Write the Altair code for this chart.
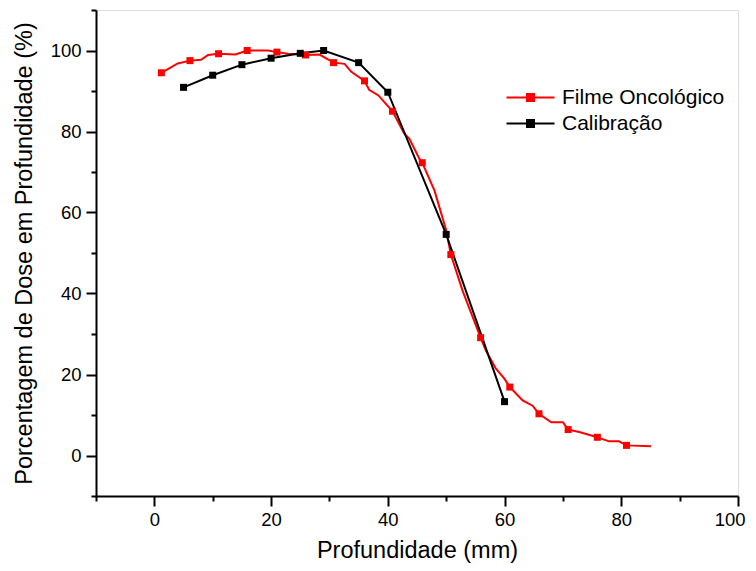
import altair as alt
import pandas as pd

# Filme Oncológico (dense curve) and its square markers
film_x = [1.2, 4.0, 6.1, 8.0, 9.2, 11.0, 13.9, 15.9, 19.5, 21.0, 22.9, 25.9, 28.3, 30.7,
          32.6, 33.7, 36.0, 36.8, 38.4, 40.8, 42.8, 43.7, 45.4, 45.9, 48.0, 50.0, 50.8,
          52.8, 55.9, 56.8, 58.5, 60.0, 60.9, 63.1, 64.8, 65.9, 68.0, 70.0, 70.9, 72.8,
          75.9, 77.9, 79.6, 80.9, 85.1]
film_y = [94.5, 96.8, 97.5, 97.7, 98.9, 99.2, 99.0, 100.0, 100.0, 99.6, 99.2, 98.9, 99.0, 97.0,
          96.7, 94.8, 92.5, 90.3, 88.9, 85.0, 79.5, 78.2, 73.3, 72.3, 65.4, 55.6, 49.6,
          40.7, 29.1, 25.9, 21.5, 18.9, 16.9, 13.6, 12.3, 10.3, 8.2, 8.2, 6.4, 5.8,
          4.5, 3.5, 3.5, 2.5, 2.3]
film_mx = [1.2, 6.1, 11.0, 15.9, 21.0, 25.9, 30.7, 36.0, 40.8, 45.9, 50.8, 55.9, 60.9,
           65.9, 70.9, 75.9, 80.9]
film_my = [94.5, 97.5, 99.2, 100.0, 99.6, 98.9, 97.0, 92.5, 85.0, 72.3, 49.6, 29.1, 16.9,
           10.3, 6.4, 4.5, 2.5]

# Calibração
cal_x = [5, 10, 15, 20, 25, 29, 35, 40, 50, 60]
cal_y = [90.9, 93.9, 96.5, 98.1, 99.3, 100.0, 97.0, 89.7, 54.6, 13.3]

series_names = ["Filme Oncológico", "\u00a0Calibração"]
series_colors = ["#ff0000", "#000000"]

lines = pd.concat([
    pd.DataFrame({"x": film_x, "y": film_y, "s": series_names[0], "o": range(len(film_x))}),
    pd.DataFrame({"x": cal_x, "y": cal_y, "s": series_names[1], "o": range(len(cal_x))}),
])
markers = pd.concat([
    pd.DataFrame({"x": film_mx, "y": film_my, "s": series_names[0]}),
    pd.DataFrame({"x": cal_x, "y": cal_y, "s": series_names[1]}),
])

FONT = "Liberation Sans"

xscale = alt.Scale(domain=[-10, 100], nice=False, zero=False)
yscale = alt.Scale(domain=[-10, 110], nice=False, zero=False)
cscale = alt.Scale(domain=series_names, range=series_colors)

tick_cond = {"condition": {"test": "datum.value % 20 === 0", "value": 10}, "value": 5}

xaxis = alt.Axis(
    title="Profundidade (mm)", values=list(range(-10, 101, 10)),
    labelExpr="datum.value % 20 === 0 ? datum.label : ''",
    grid=False, tickSize=tick_cond, tickWidth=2, domainWidth=2,
    domainColor="black", tickColor="black", labelColor="black", titleColor="black",
    labelFont=FONT, titleFont=FONT, labelFontSize=18.5, titleFontSize=23.5,
    titleFontWeight="normal", labelPadding=4, titlePadding=10,
    labelFlush=True, labelFlushOffset=7,
)
yaxis = alt.Axis(
    title="Porcentagem de Dose em Profundidade (%)", values=list(range(-10, 111, 10)),
    labelExpr="datum.value % 20 === 0 ? datum.label : ''",
    grid=False, tickSize=tick_cond, tickWidth=2, domainWidth=2,
    domainColor="black", tickColor="black", labelColor="black", titleColor="black",
    labelFont=FONT, titleFont=FONT, labelFontSize=18.5, titleFontSize=23.5,
    titleFontWeight="normal", labelPadding=5, titlePadding=14, labelFlush=False,
)

legend = alt.Legend(
    title=None, orient="none", legendX=424, legendY=77,
    symbolType="M-4.8,0H4.8M-0.7,-0.7H0.7V0.7H-0.7Z",
    symbolSize=100, symbolStrokeWidth=2,
    labelFont=FONT, labelFontSize=21, labelColor="black",
    labelOffset=21, rowPadding=4, padding=0, labelLimit=400,
)

line_layer = alt.Chart(lines).mark_line(strokeWidth=2).encode(
    x=alt.X("x:Q", scale=xscale, axis=xaxis),
    y=alt.Y("y:Q", scale=yscale, axis=yaxis),
    color=alt.Color("s:N", scale=cscale, legend=legend),
    order="o:Q",
    detail="s:N",
)

point_layer = alt.Chart(markers).mark_square(size=49, opacity=1).encode(
    x=alt.X("x:Q", scale=xscale),
    y=alt.Y("y:Q", scale=yscale),
    color=alt.Color("s:N", scale=cscale, legend=legend),
)

chart = alt.layer(line_layer, point_layer).properties(
    width=642, height=486,
    autosize=alt.AutoSizeParams(type="none"),
    padding={"left": 88, "top": 2, "right": 10, "bottom": 67},
).configure_view(stroke=None).configure(background="white")

chart.save("out.html", embed_options={"renderer": "svg", "actions": False})
